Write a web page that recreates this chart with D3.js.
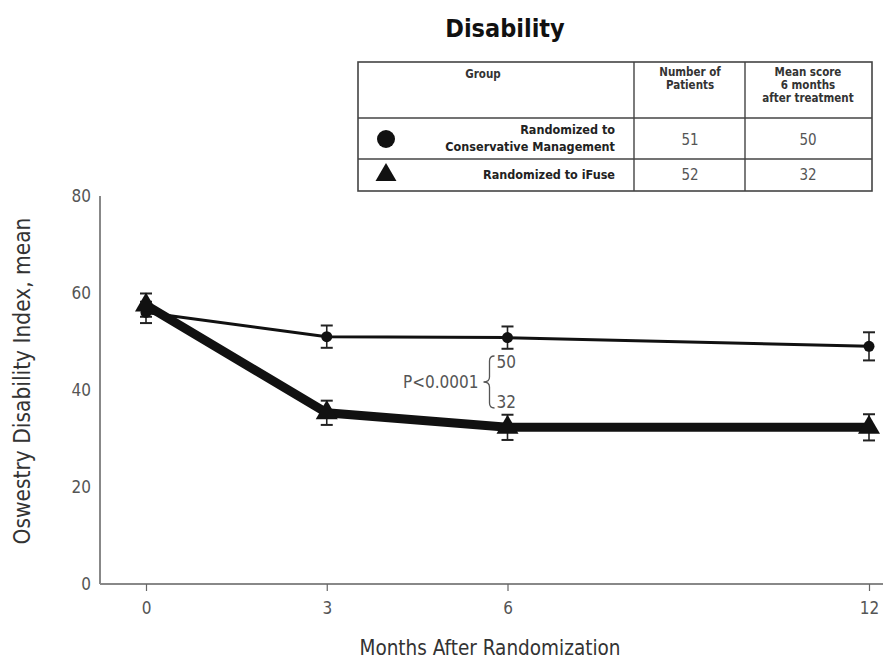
<!DOCTYPE html>
<html><head><meta charset="utf-8">
<script src="https://cdn.jsdelivr.net/npm/d3@7"></script>
<style>
body{margin:0;background:#fff;}
text{font-family:"Liberation Sans Narrow","DejaVu Sans Condensed","Roboto Condensed",sans-serif;}
</style></head>
<body><svg id="c" width="883" height="659"></svg>
<script>
const months = [0, 3, 6, 12];
const conservativeMean = [56, 51, 50.8, 49];
const conservativeErr = [2.2, 2.3, 2.3, 2.9];
const ifuseMean = [57.5, 35.3, 32.3, 32.3];
const ifuseErr = [2.4, 2.5, 2.6, 2.7];
const yTicks = [0, 20, 40, 60, 80];
const tableGroups = [["Randomized to", "Conservative Management"], ["Randomized to iFuse"]];
const tablePatients = [51, 52];
const tableScores = [50, 32];

const svg = d3.select("#c");
const x = d3.scaleLinear().domain([0, 12]).range([146, 869]);
const y = d3.scaleLinear().domain([0, 80]).range([584, 196]);
const grey = "#555";

// Title
svg.append("text").attr("x", 505).attr("y", 37).attr("text-anchor", "middle")
  .attr("font-size", 25).attr("font-weight", "bold").attr("fill", "#111").text("Disability");

// Table
const tL = 358, tR = 872, tT = 62, tH = 118, tR1 = 159, tB = 191, c1 = 634, c2 = 745;
const tg = svg.append("g");
tg.append("rect").attr("x", tL).attr("y", tT).attr("width", tR - tL).attr("height", tB - tT)
  .attr("fill", "none").attr("stroke", "#444").attr("stroke-width", 1.6);
[[tL, tH, tR, tH], [tL, tR1, tR, tR1], [c1, tT, c1, tB], [c2, tT, c2, tB]].forEach(l => {
  tg.append("line").attr("x1", l[0]).attr("y1", l[1]).attr("x2", l[2]).attr("y2", l[3])
    .attr("stroke", "#444").attr("stroke-width", 1.4);
});
function lines(g, xx, ys, arr, opts) {
  arr.forEach((t, i) => {
    g.append("text").attr("x", xx).attr("y", ys[i]).attr("text-anchor", opts.anchor)
      .attr("font-size", opts.size).attr("font-weight", opts.weight).attr("fill", opts.fill).text(t);
  });
}
const hOpt = {anchor: "middle", size: 11.5, weight: "bold", fill: "#333"};
lines(tg, 483, [78], ["Group"], hOpt);
lines(tg, 690, [76, 89], ["Number of", "Patients"], hOpt);
lines(tg, 808, [76, 89, 102], ["Mean score", "6 months", "after treatment"], hOpt);
const rOpt = {anchor: "end", size: 12.5, weight: "bold", fill: "#222"};
lines(tg, 615, [134, 151], tableGroups[0], rOpt);
lines(tg, 615, [179], tableGroups[1], rOpt);
const nOpt = {anchor: "middle", size: 15, weight: "normal", fill: grey};
lines(tg, 690, [145, 180], tablePatients.map(String), nOpt);
lines(tg, 808, [145, 180], tableScores.map(String), nOpt);
tg.append("circle").attr("cx", 386).attr("cy", 139).attr("r", 9).attr("fill", "#111");
tg.append("path").attr("d", d3.symbol().type(d3.symbolTriangle).size(190)())
  .attr("transform", "translate(386,175)").attr("fill", "#111");

// Axes
svg.append("line").attr("x1", 100).attr("x2", 100).attr("y1", y(0)).attr("y2", y(80))
  .attr("stroke", "#888").attr("stroke-width", 2);
svg.append("line").attr("x1", 100).attr("x2", 883).attr("y1", y(0)).attr("y2", y(0))
  .attr("stroke", "#888").attr("stroke-width", 2);
const yAx = svg.append("g").attr("transform", "translate(100,0)")
  .call(d3.axisLeft(y).tickValues(yTicks).tickSize(0).tickPadding(9));
yAx.select(".domain").remove();
yAx.selectAll("text").attr("font-size", 17).attr("fill", grey)
  .style("font-family", '"Liberation Sans Narrow","DejaVu Sans Condensed",sans-serif');
const xAx = svg.append("g").attr("transform", `translate(0,${y(0)})`)
  .call(d3.axisBottom(x).tickValues(months).tickSize(7).tickPadding(11));
xAx.select(".domain").remove();
xAx.selectAll("line").attr("stroke", "#666").attr("stroke-width", 1.2);
xAx.selectAll("text").attr("font-size", 17).attr("fill", grey)
  .style("font-family", '"Liberation Sans Narrow","DejaVu Sans Condensed",sans-serif');

svg.append("text").attr("x", 490).attr("y", 655).attr("text-anchor", "middle")
  .attr("font-size", 20.5).attr("fill", "#333").text("Months After Randomization");
svg.append("text").attr("transform", "translate(30,381) rotate(-90)").attr("text-anchor", "middle")
  .attr("font-size", 22.5).attr("fill", "#333").text("Oswestry Disability Index, mean");

// Series
const cData = months.map((m, i) => ({m, v: conservativeMean[i], e: conservativeErr[i]}));
const iData = months.map((m, i) => ({m, v: ifuseMean[i], e: ifuseErr[i]}));
const line = d3.line().x(d => x(d.m)).y(d => y(d.v));

function errBars(data, cap) {
  const g = svg.append("g").attr("stroke", "#222").attr("stroke-width", 1.6);
  data.forEach(d => {
    g.append("line").attr("x1", x(d.m)).attr("x2", x(d.m)).attr("y1", y(d.v - d.e)).attr("y2", y(d.v + d.e));
    [d.v - d.e, d.v + d.e].forEach(vv => g.append("line").attr("x1", x(d.m) - cap).attr("x2", x(d.m) + cap)
      .attr("y1", y(vv)).attr("y2", y(vv)).attr("stroke-width", 2));
  });
}
errBars(cData, 6);
errBars(iData, 6);
svg.append("path").datum(cData).attr("d", line).attr("fill", "none").attr("stroke", "#111").attr("stroke-width", 3);
svg.append("path").datum(iData).attr("d", line).attr("fill", "none").attr("stroke", "#111").attr("stroke-width", 9);
svg.selectAll(".dot").data(cData).enter().append("circle").attr("cx", d => x(d.m)).attr("cy", d => y(d.v))
  .attr("r", 5.5).attr("fill", "#111");
svg.selectAll(".tri").data(iData).enter().append("path")
  .attr("d", d3.symbol().type(d3.symbolTriangle).size(210)())
  .attr("transform", d => `translate(${x(d.m)},${y(d.v)})`).attr("fill", "#111");

// Annotation
const ax = x(6) - 17;
svg.append("text").attr("x", ax - 12).attr("y", 388).attr("text-anchor", "end")
  .attr("font-size", 17).attr("fill", grey).text("P<0.0001");
svg.append("path").attr("d", `M${ax + 4},356 Q${ax - 1},356 ${ax - 1},361 L${ax - 1},377 Q${ax - 1},382 ${ax - 7},382 Q${ax - 1},382 ${ax - 1},387 L${ax - 1},403 Q${ax - 1},408 ${ax + 4},408`)
  .attr("fill", "none").attr("stroke", grey).attr("stroke-width", 1.3);
svg.append("text").attr("x", ax + 6).attr("y", 368).attr("font-size", 17).attr("fill", grey).text("50");
svg.append("text").attr("x", ax + 6).attr("y", 408).attr("font-size", 17).attr("fill", grey).text("32");
</script></body></html>
